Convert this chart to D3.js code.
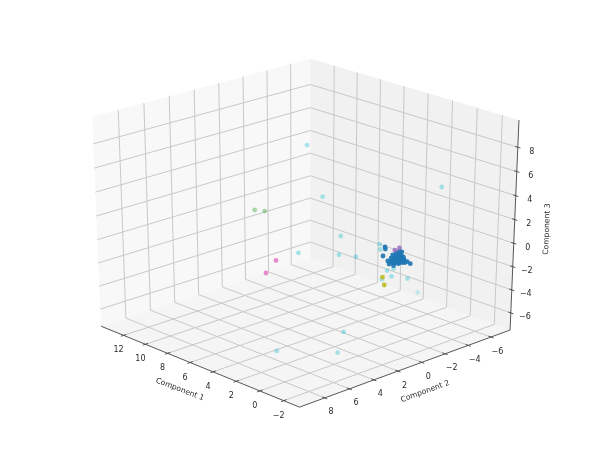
<!DOCTYPE html>
<html>
<head>
<meta charset="utf-8">
<script src="https://d3js.org/d3.v7.min.js"></script>
<style>
  html, body { margin: 0; background: #fff; }
  svg { display: block; filter: blur(0.35px); }
</style>
</head>
<body>
<script>

// values, [component 1, component 2, component 3]
let bluePoints = [
  [0.3,-0.44,0.80],[-0.1,-0.06,0.89],[0.3,-0.28,0.10],[-0.1,-1.45,0.20],[0.3,-0.69,-0.45],
  [-0.1,-0.39,-0.47],[0.3,-1.18,-1.02],[-0.1,-2.19,-1.04],[0.3,-2.16,-1.08],[-0.1,-1.53,-0.74],
  [0.3,-1.59,-0.99],[-0.1,-0.96,-0.56],[0.3,-1.01,-0.47],[-0.1,-0.80,-0.10],[0.3,-1.34,-0.24],
  [-0.1,-1.12,0.05],[0.3,-1.67,-0.18],[-0.1,-1.45,-0.13],[0.3,-1.42,-0.43],[-0.1,-1.21,-0.23],
  [0.3,-1.75,-0.62],[-0.1,-1.53,-0.41],[0.3,-1.26,-0.63],[-0.1,-1.12,-0.45],[0.3,-1.75,-0.79],
  [-0.1,-0.71,-0.48],[0.3,-2.08,-0.81],[-0.1,-0.55,-0.02],[0.3,-1.09,-0.08],[-0.1,-0.96,0.27],
  [0.3,-1.67,0.03],[0.1,-1.23,-0.63],[0.1,-1.48,-0.80],[0.1,-1.81,-0.82],[0.1,-2.13,-0.92],
  [0.1,-0.74,-0.48],[0.1,-0.99,-0.39],[0.1,-1.48,-0.26],[0.1,-1.81,-0.44]
];
let cyanPoints = [
  [8.34,-1.84,6.24],[5.36,-0.25,3.35],[1.85,-6.81,3.30],[3.72,-0.16,0.62],[2.23,1.45,0.09],
  [1.51,0.76,-0.04],[6.18,0.96,-1.32],[-1.37,4.59,-3.98],[-2.15,5.84,-4.96],[0.28,8.37,-4.85],
  [0.1,0.22,1.33],[0.1,0.16,0.86],[0.1,-0.44,-1.11],[0.1,-0.99,-1.12],[0.1,-0.82,-1.73],
  [0.1,0.00,-1.69],[0.1,-2.19,-2.38]
];
let paleCyanPoints = [[0.1,-3.09,-3.89]];
let purplePoints = [[0.1,-1.07,0.39],[0.1,-1.45,0.46]];
let olivePoints = [[0.1,-0.06,-1.54],[0.1,-0.22,-2.26]];
let greenPoints = [[10.14,0.83,0.95],[9.7,0.41,0.88]];
let pinkPoints = [[8.07,1.03,-2.62],[9.34,0.68,-4.29]];

let xTicks = [-2, 0, 2, 4, 6, 8, 10, 12];
let yTicks = [-6, -4, -2, 0, 2, 4, 6, 8];
let zTicks = [-6, -4, -2, 0, 2, 4, 6, 8];

let xLim = [-3.3, 14.1];
let yLim = [-7.7, 10.0];
let zLim = [-7.5, 10.2];

let canvasW = 598;
let canvasH = 466;

let svg = d3.select("body").append("svg")
  .attr("width", canvasW)
  .attr("height", canvasH);

// data -> centred unit cube
let xScale = d3.scaleLinear().domain(xLim).range([-0.5, 0.5]);
let yScale = d3.scaleLinear().domain(yLim).range([-0.5, 0.5]);
let zScale = d3.scaleLinear().domain(zLim).range([-0.5, 0.5]);

// view plane -> pixels
let screenX = d3.scaleLinear().domain([0, 1]).range([305.2, 600.7]);
let screenY = d3.scaleLinear().domain([0, 1]).range([225.5, -5.7]);

let elev = 25 * Math.PI / 180;
let azim = 136.5 * Math.PI / 180;
let dist = 10;

let right = [-Math.sin(azim), Math.cos(azim), 0];
let up = [-Math.sin(elev) * Math.cos(azim), -Math.sin(elev) * Math.sin(azim), Math.cos(elev)];
let toEye = [Math.cos(elev) * Math.cos(azim), Math.cos(elev) * Math.sin(azim), Math.sin(elev)];

function dot(a, b) {
  return a[0] * b[0] + a[1] * b[1] + a[2] * b[2];
}

// same perspective as a 3d matplotlib axes
function project(x, y, z) {
  let p = [xScale(x), yScale(y), zScale(z)];
  let f = dist / (dist - dot(p, toEye));
  return [screenX(dot(p, right) * f), screenY(dot(p, up) * f)];
}

let line = d3.line();

function drawPane(corners, fill) {
  svg.append("path")
    .attr("d", line(corners.map(c => project(c[0], c[1], c[2]))) + "Z")
    .attr("fill", fill)
    .attr("stroke", "none");
}

function drawSegment(a, b, color, width) {
  svg.append("path")
    .attr("d", line([project(a[0], a[1], a[2]), project(b[0], b[1], b[2])]))
    .attr("fill", "none")
    .attr("stroke", color)
    .attr("stroke-width", width);
}

let [x0, x1] = xLim;
let [y0, y1] = yLim;
let [z0, z1] = zLim;

drawPane([[x1, y0, z0], [x1, y1, z0], [x1, y1, z1], [x1, y0, z1]], "#f8f8f8");
drawPane([[x0, y0, z0], [x1, y0, z0], [x1, y0, z1], [x0, y0, z1]], "#f1f1f1");
drawPane([[x0, y0, z0], [x1, y0, z0], [x1, y1, z0], [x0, y1, z0]], "#f5f5f5");

let gridColor = "#c8c8c8";
let gridW = 1;

xTicks.forEach(t => {
  drawSegment([t, y1, z0], [t, y0, z0], gridColor, gridW);
  drawSegment([t, y0, z0], [t, y0, z1], gridColor, gridW);
});
yTicks.forEach(t => {
  drawSegment([x0, t, z0], [x1, t, z0], gridColor, gridW);
  drawSegment([x1, t, z0], [x1, t, z1], gridColor, gridW);
});
zTicks.forEach(t => {
  drawSegment([x1, y1, t], [x1, y0, t], gridColor, gridW);
  drawSegment([x1, y0, t], [x0, y0, t], gridColor, gridW);
});

let axisColor = "#444";
drawSegment([x0, y1, z0], [x1, y1, z0], axisColor, 0.9);
drawSegment([x0, y1, z0], [x0, y0, z0], axisColor, 0.9);
drawSegment([x0, y0, z0], [x0, y0, z1], axisColor, 0.9);

function drawLabel(text, px, py, rotate, size) {
  svg.append("text")
    .attr("transform", "translate(" + px + "," + py + ") rotate(" + rotate + ")")
    .attr("text-anchor", "middle")
    .attr("dominant-baseline", "central")
    .attr("font-family", "DejaVu Sans")
    .attr("font-size", size)
    .attr("fill", "#2a2a2a")
    .text(text);
}

function tickText(t) {
  return String(t).replace("-", "\u2212");
}

let yStep = (y1 - y0) * 0.012;
let xStep = (x1 - x0) * 0.012;

xTicks.forEach(t => {
  drawSegment([t, y1 - yStep, z0], [t, y1 + yStep, z0], axisColor, 0.9);
  let p = project(t, y1, z0);
  drawLabel(tickText(t), p[0] - 5, p[1] + 14.5, 0, 8);
});
yTicks.forEach(t => {
  drawSegment([x0 + xStep, t, z0], [x0 - xStep, t, z0], axisColor, 0.9);
  let p = project(x0, t, z0);
  drawLabel(tickText(t), p[0] + 6.5, p[1] + 14, 0, 8);
});
zTicks.forEach(t => {
  drawSegment([x0 + xStep, y0, t], [x0 - xStep, y0, t], axisColor, 0.9);
  let p = project(x0, y0, t);
  drawLabel(tickText(t), p[0] + 14, p[1] + 4, 0, 8);
});

drawLabel("Component 1", 180, 389, 21, 7.6);
drawLabel("Component 2", 425, 391, -20, 7.6);
drawLabel("Component 3", 546.5, 229, -88, 7.6);

function drawPoints(points, color, opacity) {
  svg.append("g").selectAll("circle")
    .data(points)
    .enter()
    .append("circle")
    .attr("cx", d => project(d[0], d[1], d[2])[0])
    .attr("cy", d => project(d[0], d[1], d[2])[1])
    .attr("r", 2.4)
    .attr("fill", color)
    .attr("fill-opacity", opacity);
}

drawPoints(paleCyanPoints, "#17becf", 0.2);
drawPoints(cyanPoints, "#17becf", 0.36);
drawPoints(greenPoints, "#2ca02c", 0.4);
drawPoints(pinkPoints, "#e377c2", 0.85);
drawPoints(olivePoints, "#bcbd22", 0.9);
drawPoints(bluePoints, "#1f77b4", 0.92);
drawPoints(purplePoints, "#9467bd", 0.8);

</script>
</body>
</html>
